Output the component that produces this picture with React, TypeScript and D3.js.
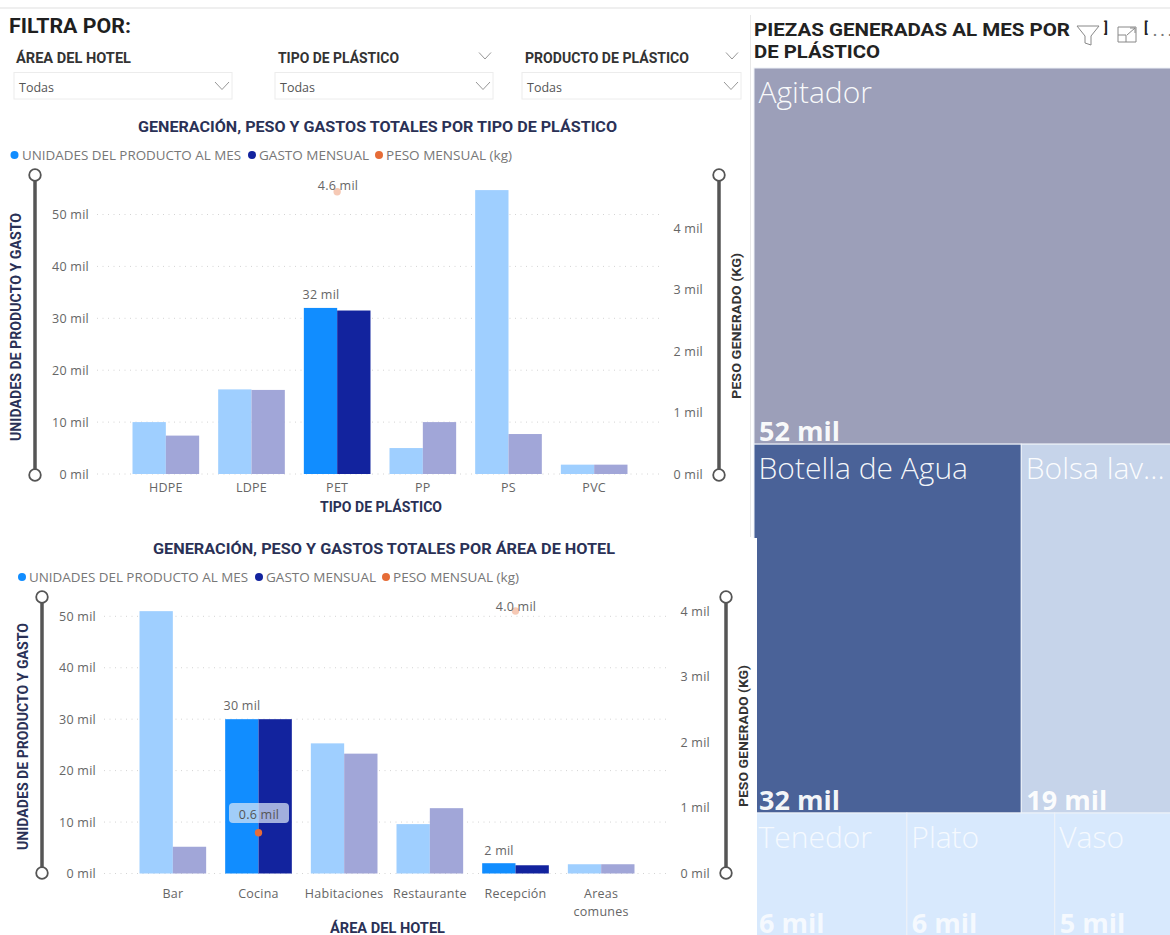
import React from "react";
import * as d3 from "d3";

const tiposPlastico = ["HDPE", "LDPE", "PET", "PP", "PS", "PVC"];
const unidadesTipo = [10, 16.3, 32, 5, 54.7, 1.8];
const gastoTipo = [7.4, 16.2, 31.5, 10, 7.7, 1.8];
const pesoTipo: (number | null)[] = [null, null, 4.6, null, null, null];

const areasHotel = ["Bar", "Cocina", "Habitaciones", "Restaurante", "Recepción", "Areas comunes"];
const unidadesArea = [51, 30, 25.3, 9.6, 2, 1.8];
const gastoArea = [5.2, 30, 23.3, 12.7, 1.6, 1.8];
const pesoArea: (number | null)[] = [null, 0.62, null, null, 4.0, null];

const leftTicks = [0, 10, 20, 30, 40, 50];
const rightTicks = [0, 1, 2, 3, 4];

const treemapRows = [
  [{ name: "Agitador", value: 52 }],
  [{ name: "Botella de Agua", value: 32 }, { name: "Bolsa lav...", value: 19 }],
  [{ name: "Tenedor", value: 6.1 }, { name: "Plato", value: 5.9 }, { name: "Vaso", value: 5 }],
];
const treemapColors: Record<string, string> = {
  Agitador: "#9c9fb9",
  "Botella de Agua": "#4a6298",
  "Bolsa lav...": "#c6d4ea",
  Tenedor: "#d8e9fd",
  Plato: "#d8e9fd",
  Vaso: "#d8e9fd",
};

const DIN = "'Roboto', 'Liberation Sans', sans-serif";
const UI = "'Open Sans', 'Noto Sans', sans-serif";
const C = { light1: "#9fcfff", light2: "#a1a6d8", dark1: "#118dff", dark2: "#12239e", orange: "#e66c37", fade: "#f6c9b5" };

function Fit({ x, y, w, size, fill, children, weight = 700, rotate, font = DIN }: any) {
  return (
    <text
      x={rotate ? 0 : x}
      y={rotate ? 0 : y}
      transform={rotate ? `translate(${x},${y}) rotate(-90)` : undefined}
      textLength={w}
      lengthAdjust="spacingAndGlyphs"
      fontFamily={font}
      fontWeight={weight}
      fontSize={size}
      fill={fill}
    >
      {children}
    </text>
  );
}

function Lbl({ x, y, anchor = "middle", fill = "#666", children }: any) {
  return (
    <text x={x} y={y} textAnchor={anchor} fontFamily={UI} fontSize={12.5} letterSpacing={0.25} fill={fill}>
      {children}
    </text>
  );
}

function Chevron({ x, y, s = 7 }: { x: number; y: number; s?: number }) {
  return <path d={`M${x - s} ${y - s / 2 + 0.5}L${x} ${y + s / 2 + 1}L${x + s} ${y - s / 2 + 0.5}`} fill="none" stroke="#8a8a8a" strokeWidth={0.9} />;
}

function Slider({ x, y0, y1 }: { x: number; y0: number; y1: number }) {
  return (
    <g>
      <line x1={x} x2={x} y1={y0} y2={y1} stroke="#555" strokeWidth={3.5} />
      <circle cx={x} cy={y0} r={5.8} fill="#fff" stroke="#555" strokeWidth={1.8} />
      <circle cx={x} cy={y1} r={5.8} fill="#fff" stroke="#555" strokeWidth={1.8} />
    </g>
  );
}

function Combo(p: any) {
  const { cats, units, gasto, peso, hi, band, y0, y50, r4, gridX, leftX, rightX, tickY } = p;
  const x = d3.scaleBand<string>().domain(cats).range(band).paddingInner(0.222).paddingOuter(0.111);
  const inner = d3.scaleBand<string>().domain(["u", "g"]).range([0, x.bandwidth()]);
  const yL = d3.scaleLinear().domain([0, 50]).range([y0, y50]);
  const yR = d3.scaleLinear().domain([0, 4]).range([y0, r4]);
  return (
    <g>
      {leftTicks.map((t) => (
        <g key={t}>
          <line x1={gridX[0]} x2={gridX[1]} y1={yL(t)} y2={yL(t)} stroke="#d4d4d4" strokeWidth={1} strokeDasharray="1 4.5" />
          <Lbl x={leftX} y={yL(t) + 4.5} anchor="end">{t} mil</Lbl>
        </g>
      ))}
      {rightTicks.map((t) => (
        <Lbl key={t} x={rightX} y={yR(t) + 4.5} anchor="end">{t} mil</Lbl>
      ))}
      {cats.map((c: string, i: number) => {
        const mid = x(c)! + x.bandwidth() / 2;
        return (
          <g key={c}>
            <rect x={x(c)! + inner("u")!} width={inner.bandwidth()} y={yL(units[i])} height={y0 - yL(units[i])} fill={hi.includes(i) ? C.dark1 : C.light1} />
            <rect x={x(c)! + inner("g")!} width={inner.bandwidth()} y={yL(gasto[i])} height={y0 - yL(gasto[i])} fill={hi.includes(i) ? C.dark2 : C.light2} />
            {c === "Areas comunes" ? (
              <>
                <Lbl x={mid} y={tickY}>Areas</Lbl>
                <Lbl x={mid} y={tickY + 18}>comunes</Lbl>
              </>
            ) : (
              <Lbl x={mid} y={tickY}>{c}</Lbl>
            )}
          </g>
        );
      })}
      {cats.map((c: string, i: number) => {
        if (peso[i] == null) return null;
        const cx = x(c)! + x.bandwidth() / 2;
        const cy = yR(peso[i]);
        return <circle key={c} cx={cx} cy={cy} r={3.7} fill={peso[i] < 1 ? C.orange : C.fade} />;
      })}
      {p.children}
    </g>
  );
}

function Treemap() {
  const root = d3.hierarchy<any>({ children: treemapRows.map((r) => ({ children: r })) }).sum((d) => d.value ?? 0);
  const tile = (n: any, a: number, b: number, c: number, e: number) =>
    n.depth === 0 ? d3.treemapSlice(n, a, b, c, e) : d3.treemapDice(n, a, b, c, e);
  d3.treemap<any>().tile(tile as any).size([426, 868])(root as any);
  return (
    <g transform="translate(754,68)">
      {(root.leaves() as any[]).map((l) => {
        const small = l.data.value < 10;
        const op = small ? 0.75 : 0.95;
        return (
          <g key={l.data.name}>
            <rect x={l.x0} y={l.y0} width={l.x1 - l.x0} height={l.y1 - l.y0} fill={treemapColors[l.data.name]} stroke="#eef2f8" strokeWidth={1} />
            <text x={l.x0 + 4.5} y={l.y0 + 34.5} fontFamily={UI} fontWeight={300} fontSize={30} fill="#fff" fillOpacity={op}>{l.data.name}</text>
            <text x={l.x0 + 5} y={l.y1 - 3.5} fontFamily={UI} fontWeight={700} fontSize={27} fill="#fff" fillOpacity={op}>{`${Math.round(l.data.value)} mil`}</text>
          </g>
        );
      })}
    </g>
  );
}

export default function App() {
  const navy = "#2a3156";
  return (
    <svg width={1170} height={935} style={{ position: "absolute", left: 0, top: 0, background: "#fff" }}>
      <rect x={0} y={7} width={1170} height={2} fill="#efefef" />
      <rect x={750} y={15} width={1} height={522} fill="#e8e8e8" />

      <Fit x={9} y={33} w={122} size={20} fill="#1f1f1f">FILTRA POR:</Fit>
      <Fit x={16} y={63} w={115} size={14} fill="#333">ÁREA DEL HOTEL</Fit>
      <Fit x={278} y={63} w={121} size={14} fill="#333">TIPO DE PLÁSTICO</Fit>
      <Fit x={525} y={63} w={164} size={14} fill="#333">PRODUCTO DE PLÁSTICO</Fit>
      <Chevron x={485} y={55} s={6} />
      <Chevron x={732} y={55} s={6} />
      {[[14, 218], [275, 218], [522, 219]].map(([bx, bw]) => (
        <g key={bx}>
          <rect x={bx} y={72.5} width={bw} height={26.5} fill="#fff" stroke="#ececec" strokeWidth={1} />
          <text x={bx + 5} y={92} fontFamily={UI} fontSize={12.5} fill="#555">Todas</text>
          <Chevron x={bx + bw - 10} y={85} />
        </g>
      ))}

      <Fit x={138} y={132} w={479} size={15.5} fill={navy}>GENERACIÓN, PESO Y GASTOS TOTALES POR TIPO DE PLÁSTICO</Fit>
      <circle cx={14.5} cy={155} r={4} fill={C.dark1} />
      <Fit x={22} y={160} w={219} size={12.5} fill="#777" weight={400} font={UI}>UNIDADES DEL PRODUCTO AL MES</Fit>
      <circle cx={252} cy={155} r={4} fill={C.dark2} />
      <Fit x={259} y={160} w={110} size={12.5} fill="#777" weight={400} font={UI}>GASTO MENSUAL</Fit>
      <circle cx={379} cy={155} r={4} fill={C.orange} />
      <Fit x={386} y={160} w={126} size={12.5} fill="#777" weight={400} font={UI}>PESO MENSUAL (kg)</Fit>

      <Combo cats={tiposPlastico} units={unidadesTipo} gasto={gastoTipo} peso={pesoTipo} hi={[2]} band={[123, 637]} y0={474} y50={214.5} r4={228.5} gridX={[97, 662]} leftX={89} rightX={703} tickY={492}>
        <Lbl x={321} y={299}>32 mil</Lbl>
        <Lbl x={338} y={190}>4.6 mil</Lbl>
      </Combo>
      <Slider x={35} y0={175} y1={475} />
      <Slider x={719} y0={175} y1={475} />
      <Fit x={21} y={441} w={228} size={14} fill={navy} rotate>UNIDADES DE PRODUCTO Y GASTO</Fit>
      <Fit x={741} y={399} w={146} size={13} fill="#333" rotate>PESO GENERADO (KG)</Fit>
      <Fit x={320} y={512} w={122} size={14} fill={navy}>TIPO DE PLÁSTICO</Fit>

      <Treemap />
      <rect x={750} y={538} width={7} height={397} fill="#fff" />

      <Fit x={153} y={554} w={462} size={15.5} fill={navy}>GENERACIÓN, PESO Y GASTOS TOTALES POR ÁREA DE HOTEL</Fit>
      <circle cx={22} cy={577} r={4} fill={C.dark1} />
      <Fit x={29} y={582} w={219} size={12.5} fill="#777" weight={400} font={UI}>UNIDADES DEL PRODUCTO AL MES</Fit>
      <circle cx={259} cy={577} r={4} fill={C.dark2} />
      <Fit x={266} y={582} w={110} size={12.5} fill="#777" weight={400} font={UI}>GASTO MENSUAL</Fit>
      <circle cx={386} cy={577} r={4} fill={C.orange} />
      <Fit x={393} y={582} w={126} size={12.5} fill="#777" weight={400} font={UI}>PESO MENSUAL (kg)</Fit>

      <Combo cats={areasHotel} units={unidadesArea} gasto={gastoArea} peso={pesoArea} hi={[1, 4]} band={[130, 644]} y0={873.5} y50={616.3} r4={611} gridX={[104, 668]} leftX={96} rightX={710} tickY={898}>
        <Lbl x={242} y={710}>30 mil</Lbl>
        <rect x={229} y={803} width={60} height={20} rx={4} fill="#d9e6f5" fillOpacity={0.72} />
        <Lbl x={259} y={819} fill="#555">0.6 mil</Lbl>
        <Lbl x={516} y={611}>4.0 mil</Lbl>
        <Lbl x={499} y={855}>2 mil</Lbl>
      </Combo>
      <Slider x={42} y0={597} y1={873} />
      <Slider x={726} y0={597} y1={873} />
      <Fit x={28} y={850} w={227} size={14} fill={navy} rotate>UNIDADES DE PRODUCTO Y GASTO</Fit>
      <Fit x={748} y={807} w={142} size={13} fill="#333" rotate>PESO GENERADO (KG)</Fit>
      <Fit x={330} y={933} w={115} size={14} fill={navy}>ÁREA DEL HOTEL</Fit>

      <rect x={752} y={16} width={418} height={51} fill="#fff" />
      <Fit x={754} y={36} w={316} size={19} fill="#222">PIEZAS GENERADAS AL MES POR</Fit>
      <Fit x={754} y={58} w={126} size={19} fill="#222">DE PLÁSTICO</Fit>
      <path d="M1077 26H1099L1091 36V45L1085 43V36Z" fill="none" stroke="#888" strokeWidth={1} />
      <text x={1104} y={33} fontFamily={DIN} fontWeight={700} fontSize={14} fill="#222">]</text>
      <path d="M1118 35V27H1136M1136 27V42H1118V35H1126V42M1127 35L1135 28M1130 28H1135V33" fill="none" stroke="#888" strokeWidth={1} />
      <text x={1144} y={33} fontFamily={DIN} fontWeight={700} fontSize={14} fill="#222">[</text>
      <text x={1153} y={36} fontFamily={DIN} fontWeight={700} fontSize={14} fill="#777">. . .</text>
    </svg>
  );
}
